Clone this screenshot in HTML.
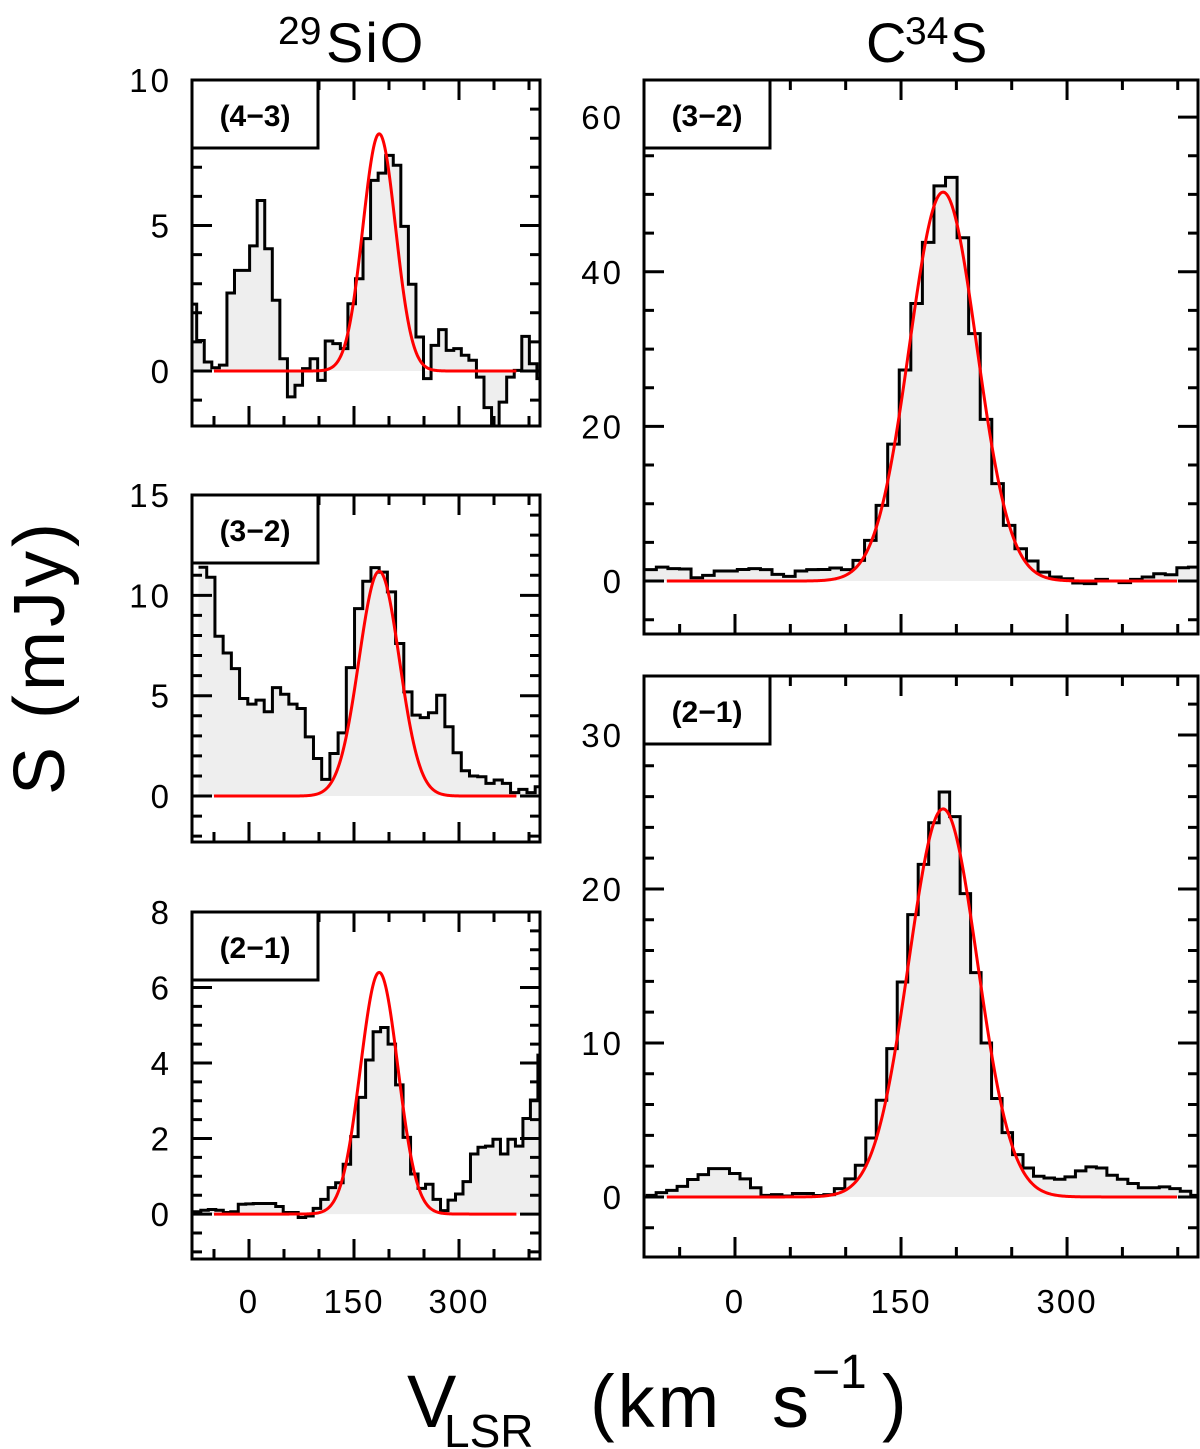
<!DOCTYPE html>
<html><head><meta charset="utf-8">
<style>
html,body{margin:0;padding:0;background:#fff;}
svg{display:block;font-family:"Liberation Sans",sans-serif;}
</style></head>
<body>
<svg id="fig" width="1200" height="1449" viewBox="0 0 1200 1449" xmlns="http://www.w3.org/2000/svg">
<text x="278" y="44" font-size="39">29</text>
<text x="326" y="62" font-size="56" letter-spacing="2">SiO</text>
<text x="866" y="62" font-size="56">C</text>
<text x="905" y="44" font-size="39">34</text>
<text x="950" y="62" font-size="56">S</text>
<text transform="translate(64,657) rotate(-90)" text-anchor="middle" font-size="72" letter-spacing="4">S (mJy)</text>
<text x="407" y="1427" font-size="74">V</text>
<text x="444" y="1447" font-size="46">LSR</text>
<text x="590" y="1427" font-size="74" letter-spacing="3">(km</text>
<text x="772" y="1427" font-size="74">s</text>
<text x="812" y="1388" font-size="48">−1</text>
<text x="882" y="1427" font-size="74">)</text>
<g id="panels"></g>
</svg>
<script>
// ---- data: histogram values per panel (mJy), channel start velocity and width ----
const sio43Values = [2.3,1.05,0.31,0.11,0.2,2.68,3.46,3.46,4.3,5.86,4.2,2.43,0.42,-0.89,-0.49,0.08,0.42,-0.32,1.03,0.94,0.77,2.31,3.17,4.55,6.55,6.8,7.41,7.07,4.97,2.98,1.17,-0.26,0.88,1.42,0.71,0.77,0.54,0.37,-0.21,-1.26,-2.0,-1.07,-0.21,0.02,1.19,0.25,-0.26,0.08];
const sio43Start = -85.5, sio43Width = 10.8;
const sio32Values = [11.4,10.9,7.96,7.13,6.35,4.86,4.58,4.78,4.2,5.4,5.07,4.58,4.36,2.95,1.87,0.83,2.12,3.15,6.4,9.34,10.7,11.38,11.16,10.17,7.6,5.19,4.03,3.91,4.15,5.02,3.45,2.16,1.26,1.0,0.96,0.63,0.8,0.63,0.17,0.33,0.17,0.46];
const sio32Start = -72.1, sio32Width = 11.73;
const sio21Values = [0.06,0.1,0.12,0.1,0.04,0.06,0.26,0.27,0.28,0.28,0.28,0.2,0.04,0.04,-0.09,-0.05,0.15,0.39,0.7,0.83,1.32,2.05,3.09,4.08,4.83,4.94,4.5,3.42,2.03,1.06,0.68,0.79,0.39,0.09,0.37,0.53,0.86,1.59,1.77,1.8,1.98,1.59,1.98,1.8,2.53,3.02,4.21];
const sio21Start = -79.5, sio21Width = 10.7;
const cs32Values = [1.47,1.8,1.6,1.55,0.43,0.73,1.3,1.3,1.5,1.6,1.47,0.86,0.6,1.3,1.47,1.5,1.68,1.47,2.67,5.26,9.78,17.7,27.3,35.9,43.8,51.1,52.2,44.4,32.0,20.9,12.6,7.2,4.18,2.59,1.16,0.52,0.3,-0.26,-0.34,0.22,0,-0.2,0.22,0.52,0.95,0.82,1.72,1.8];
const cs32Start = -81.5, cs32Width = 10.45;
const cs21Values = [0.1,0.28,0.43,0.69,1.13,1.45,1.84,1.84,1.52,1.17,0.6,0.1,0.15,0.06,0.22,0.22,0.09,0.15,0.54,1.17,2.06,3.83,6.28,9.63,13.96,18.33,21.6,24.3,26.3,24.7,19.7,14.57,10.0,6.39,4.18,2.75,1.88,1.34,1.23,1.15,1.3,1.69,1.95,1.88,1.41,1.15,0.87,0.6,0.6,0.65,0.54,0.37,0.1];
const cs21Start = -80.7, cs21Width = 9.47;
// gaussian fits: [peak, centre, FWHM]
const sio43Fit = [8.15, 186, 55];
const sio32Fit = [11.2, 186, 68];
const sio21Fit = [6.4, 186, 63];
const cs32Fit = [50.3, 188, 71.4];
const cs21Fit = [25.2, 188, 73];
// axis tick labels
const leftXTicks = [0, 150, 300];
const sio43YTicks = [0, 5, 10];
const sio32YTicks = [0, 5, 10, 15];
const sio21YTicks = [0, 2, 4, 6, 8];
const cs32YTicks = [0, 20, 40, 60];
const cs21YTicks = [0, 10, 20, 30];
const transitions = ["(4−3)", "(3−2)", "(2−1)", "(3−2)", "(2−1)"];

const NS = "http://www.w3.org/2000/svg";
const root = document.getElementById("panels");
function mk(tag, attrs, parent) {
  const e = document.createElementNS(NS, tag);
  for (const k in attrs) e.setAttribute(k, attrs[k]);
  (parent || root).appendChild(e);
  return e;
}

const panels = [
  {id:"sio-4-3", x0:192,x1:540,y0:80,y1:426,vmin:-81.4,vmax:415.7,ymin:-1.89,ymax:10,vals:sio43Values,start:sio43Start,w:sio43Width,fit:sio43Fit,yt:sio43YTicks,ym:1,xlab:false,lab:transitions[0],gr:[-50,382]},
  {id:"sio-3-2", x0:192,x1:540,y0:495,y1:842,vmin:-81.4,vmax:415.7,ymin:-2.29,ymax:15,vals:sio32Values,start:sio32Start,w:sio32Width,fit:sio32Fit,yt:sio32YTicks,ym:1,xlab:false,lab:transitions[1],gr:[-50,382]},
  {id:"sio-2-1", x0:192,x1:540,y0:912,y1:1259,vmin:-81.4,vmax:415.7,ymin:-1.19,ymax:8,vals:sio21Values,start:sio21Start,w:sio21Width,fit:sio21Fit,yt:sio21YTicks,ym:0.5,xlab:true,lab:transitions[2],gr:[-50,382]},
  {id:"c34s-3-2", x0:644,x1:1198,y0:80,y1:634,vmin:-82.2,vmax:418.3,ymin:-6.85,ymax:64.8,vals:cs32Values,start:cs32Start,w:cs32Width,fit:cs32Fit,yt:cs32YTicks,ym:5,xlab:false,lab:transitions[3],gr:[-61.6,400]},
  {id:"c34s-2-1", x0:644,x1:1198,y0:676,y1:1257,vmin:-82.2,vmax:418.3,ymin:-3.9,ymax:33.83,vals:cs21Values,start:cs21Start,w:cs21Width,fit:cs21Fit,yt:cs21YTicks,ym:2,xlab:true,lab:transitions[4],gr:[-61.6,400]}
];

panels.forEach((p, pi) => {
  const g = mk("g", {});
  
  
  const X = v => p.x0 + (v - p.vmin) / (p.vmax - p.vmin) * (p.x1 - p.x0);
  const Y = s => p.y1 - (s - p.ymin) / (p.ymax - p.ymin) * (p.y1 - p.y0);
  const cid = "clip" + pi;
  const cp = mk("clipPath", {id: cid}, g);
  mk("rect", {x:p.x0, y:p.y0, width:p.x1-p.x0, height:p.y1-p.y0}, cp);
  const inner = mk("g", {"clip-path":"url(#"+cid+")"}, g);
  let fd = "M" + X(p.start) + "," + Y(0);
  let ld = "";
  p.vals.forEach((v, i) => {
    const a = X(p.start + i*p.w), b = X(p.start + (i+1)*p.w);
    fd += " L" + a + "," + Y(v) + " L" + b + "," + Y(v);
    ld += (i === 0 ? "M" : " L") + a + "," + Y(v) + " L" + b + "," + Y(v);
  });
  fd += " L" + X(p.start + p.vals.length*p.w) + "," + Y(0) + " Z";
  const fill = mk("path", {d: fd, fill:"#eeeeee", stroke:"none"}, inner);
  
  
  const line = mk("path", {d: ld, fill:"none", stroke:"#000", "stroke-width":3, "stroke-linejoin":"miter"}, inner);
  
  
  const [A, c, fw] = p.fit;
  const sig = fw / 2.3548;
  let gd = "";
  for (let v = p.gr[0]; v <= p.gr[1]; v += 1) {
    const s = A * Math.exp(-0.5 * ((v - c)/sig) ** 2);
    gd += (gd ? " L" : "M") + X(v).toFixed(2) + "," + Y(s).toFixed(2);
  }
  const gp = mk("path", {d: gd, fill:"none", stroke:"#ff0000", "stroke-width":3}, inner);
  
  
  let td = "";
  for (let v = -50; v <= p.vmax; v += 50) {
    const major = (v % 150 === 0);
    const L = major ? 20 : 10;
    const x = X(v);
    td += `M${x},${p.y1} V${p.y1-L} M${x},${p.y0} V${p.y0+L} `;
  }
  for (let k = Math.ceil(p.ymin/p.ym); k*p.ym <= p.ymax; k++) {
    const s = k*p.ym;
    const major = p.yt.some(t => Math.abs(t - s) < 1e-6);
    const L = major ? 20 : 10;
    const y = Y(s);
    td += `M${p.x0},${y} H${p.x0+L} M${p.x1},${y} H${p.x1-L} `;
  }
  const ticks = mk("path", {d: td, stroke:"#000", "stroke-width":3, fill:"none"}, g);
  
  
  const bw = 126, bh = 68;
  const box = mk("rect", {x:p.x0, y:p.y0, width:bw, height:bh, fill:"#fff", stroke:"#000", "stroke-width":3}, g);
  
  
  const lt = mk("text", {x:p.x0 + bw/2, y:p.y0 + 46, "text-anchor":"middle", "font-size":30, "font-weight":"bold"}, g);
  lt.textContent = p.lab;
  
  
  const fr = mk("rect", {x:p.x0, y:p.y0, width:p.x1-p.x0, height:p.y1-p.y0, fill:"none", stroke:"#000", "stroke-width":3}, g);
  
  
  p.yt.forEach(t => {
    const tx = mk("text", {x:p.x0 - 20, y:Y(t) + 12, "text-anchor":"end", "font-size":33, "letter-spacing":"3"}, g);
    tx.textContent = t;
    
    
  });
  if (p.xlab) {
    leftXTicks.forEach(t => {
      const tx = mk("text", {x:X(t), y:1313, "text-anchor":"middle", "font-size":33, "letter-spacing":"2"}, g);
      tx.textContent = t;
      
      
    });
  }
});
</script>
</body></html>
